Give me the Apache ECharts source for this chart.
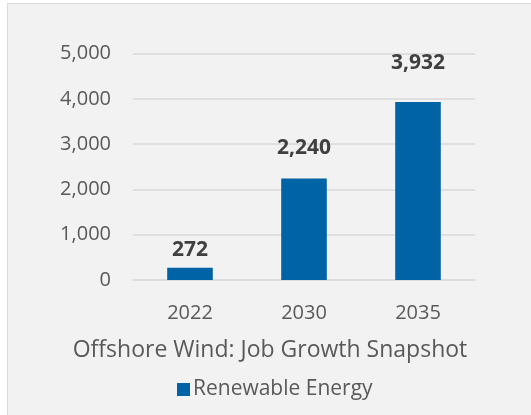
<!DOCTYPE html>
<html>
<head>
<meta charset="utf-8">
<script src="https://cdn.jsdelivr.net/npm/echarts@6/dist/echarts.min.js"></script>
<style>
  html, body { margin: 0; padding: 0; background: #ffffff; overflow: hidden; }
  #frame { position: absolute; left: 7px; top: 3px; width: 560px; height: 450px; background: #f2f2f2; border: 1.5px solid #d9d9d9; box-sizing: border-box; }
  #chart { position: absolute; left: 0; top: 0; width: 531px; height: 415px; }
</style>
</head>
<body>
<div id="frame"></div>
<div id="chart"></div>
<script>
const categories = ['2022', '2030', '2035'];
const seriesName = 'Renewable Energy';
const jobs = [272, 2240, 3932];
const yTicks = [0, 1000, 2000, 3000, 4000, 5000];
const chartTitle = 'Offshore Wind: Job Growth Snapshot';

const labelGaps = [7, 20, 28];
const chart = echarts.init(document.getElementById('chart'), null, { renderer: 'canvas' });
const fmt = v => v.toLocaleString('en-US');
chart.setOption({
  backgroundColor: 'transparent',
  animation: false,
  textStyle: { fontFamily: 'Open Sans' },
  title: {
    text: chartTitle,
    left: 265, textAlign: 'center', top: 334,
    textStyle: { fontFamily: 'Open Sans', fontSize: 23, fontWeight: 'normal', color: '#595959' }
  },
  legend: {
    data: [seriesName],
    top: 374,
    left: 172,
    itemWidth: 13, itemHeight: 13, itemGap: 6,
    icon: 'rect',
    textStyle: { fontFamily: 'Open Sans', fontSize: 21, color: '#595959', padding: [0, 0, 0, -2] }
  },
  grid: { left: 133, right: 56, top: 53.5, bottom: 135, containLabel: false },
  xAxis: {
    type: 'category',
    data: categories,
    axisLine: { show: true, lineStyle: { color: '#d9d9d9', width: 1.5 } },
    axisTick: { show: false },
    axisLabel: { color: '#595959', fontSize: 20, fontFamily: 'Open Sans', margin: 23 }
  },
  yAxis: {
    type: 'value',
    min: yTicks[0], max: yTicks[yTicks.length - 1], interval: yTicks[1] - yTicks[0],
    axisLine: { show: false },
    axisTick: { show: false },
    splitLine: { lineStyle: { color: '#d9d9d9', width: 1.5 } },
    axisLabel: { color: '#595959', fontSize: 20, fontFamily: 'Open Sans', margin: 22, formatter: v => fmt(v) }
  },
  series: [{
    name: seriesName,
    type: 'bar',
    barWidth: '40%',
    itemStyle: { color: '#0063a6' },
    data: jobs.map((v, i) => ({
      value: v,
      label: { distance: labelGaps[i] }
    })),
    label: {
      show: true, position: 'top',
      fontFamily: 'Open Sans', fontSize: 21, fontWeight: 'bold', color: '#404040',
      formatter: p => fmt(p.value)
    }
  }]
});
</script>
</body>
</html>
